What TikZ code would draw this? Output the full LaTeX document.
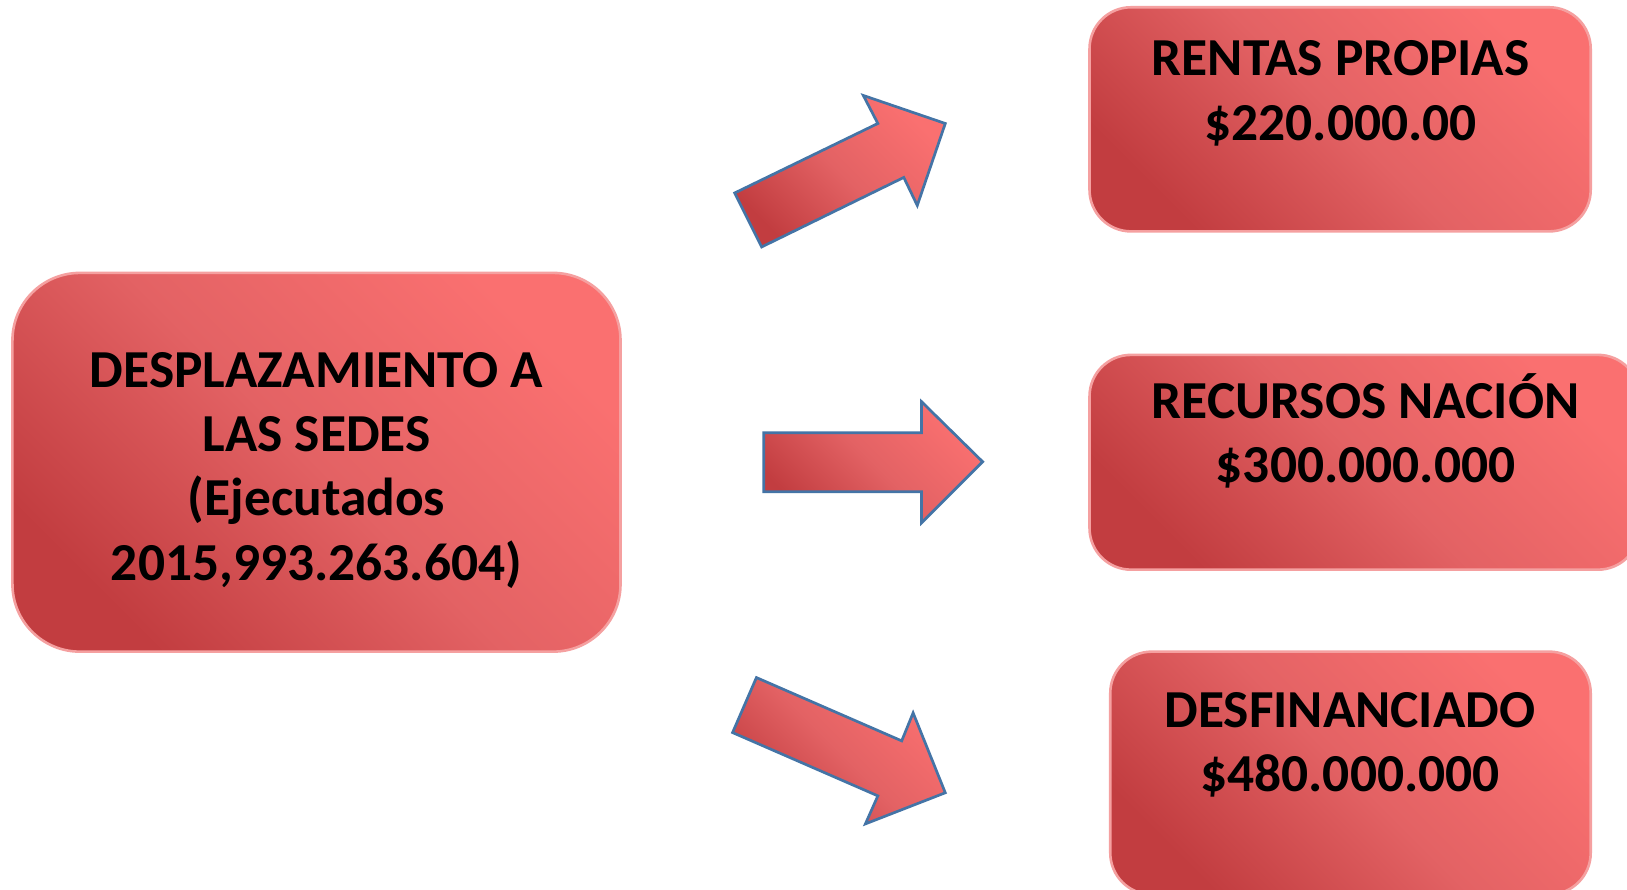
\documentclass[tikz,border=0pt]{standalone}
\usepackage{fontspec}
\setmainfont{Carlito}
\definecolor{hl}{HTML}{FA7070}
\definecolor{hm}{HTML}{E36264}
\definecolor{hd}{HTML}{C23D40}
\definecolor{boxedge}{HTML}{F5A0A0}
\definecolor{arrowedge}{HTML}{4474A6}
\begin{document}
\begin{tikzpicture}[x=1pt,y=-1pt,
  boxfill/.style={top color=hl, bottom color=hd, middle color=hm, shading angle=-45},
  rbox/.style={boxfill, draw=boxedge, line width=2.5pt, rectangle, inner sep=0pt},
  blockarrow/.style={boxfill, draw=arrowedge, line width=2.6pt, line join=miter},
  lbl/.style={font=\bfseries\fontsize{51.5}{62}\selectfont, align=center, anchor=base, inner sep=0pt, text=black}]
\useasboundingbox (0,0) rectangle (1568,857);
\fill[white] (0,0) rectangle (1568,857);
% boxes
\node[rbox, rounded corners=65pt, minimum width=586pt, minimum height=365pt] (src) at (305,445.5) {};
\node[rbox, rounded corners=40pt, minimum width=483pt, minimum height=216pt] (rp) at (1291.5,115) {};
\node[rbox, rounded corners=40pt, minimum width=530pt, minimum height=207pt] (rn) at (1315,445.5) {};
\node[rbox, rounded corners=40pt, minimum width=463pt, minimum height=234pt] (df) at (1301.5,745) {};
% texts (base anchor = baseline of last line)
\node[lbl] (srct) at (305,559) {DESPLAZAMIENTO A\\LAS SEDES\\(Ejecutados\\2015,993.263.604)};
\node[lbl] (rpt) at (1292,135) {RENTAS PROPIAS\\\$220.000.00};
\node[lbl] (rnt) at (1316,465) {RECURSOS NACIÓN\\\$300.000.000};
\node[lbl] (dft) at (1301,763) {DESFINANCIADO\\\$480.000.000};
% block arrows
\path[blockarrow] (708,186) -- (846,119) -- (832,92) -- (911,119) -- (884,198) -- (871,171) -- (734,238) -- cycle;
\path[blockarrow] (736,417) -- (888,417) -- (888,387) -- (947,445) -- (888,504) -- (888,474) -- (736,474) -- cycle;
\path[blockarrow] (729,653) -- (869,714) -- (880,687) -- (911,764) -- (834,794) -- (846,767) -- (706,706) -- cycle;
\end{tikzpicture}
\end{document}
